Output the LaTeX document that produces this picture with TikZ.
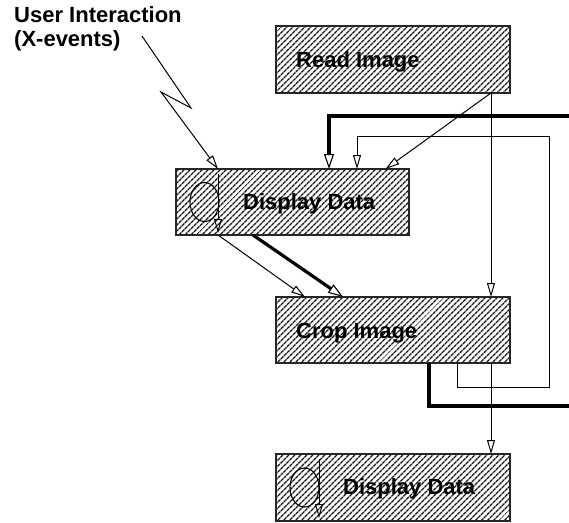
\documentclass[tikz,border=0pt]{standalone}
\usepackage{fontspec}
\setmainfont{Liberation Sans}
\usetikzlibrary{arrows.meta,patterns.meta,shapes.geometric}
\tikzset{
  procbox/.style={draw=black!85,line width=1.4pt,outer sep=0pt,inner sep=0pt,
    pattern={Lines[angle=45,distance=4pt,line width=1.4pt]},pattern color=black!90},
  lab/.style={font=\fontsize{22}{24}\selectfont\bfseries,inner sep=0pt,align=left},
  loopell/.style={draw,ellipse,line width=1.1pt,minimum width=29pt,minimum height=39pt,inner sep=0pt,outer sep=0pt},
  thin line/.style={line width=1pt},
  thick line/.style={line width=3.2pt},
  hollow/.style={-{Triangle[open,length=14pt,width=8pt,line width=1pt]}},
  hollow thick/.style={-{Triangle[open,length=15pt,width=10pt,line width=1.1pt]}}
}
\begin{document}
\begin{tikzpicture}[x=1pt,y=-1pt]
  \useasboundingbox (0,0) rectangle (569,522);
  \node[procbox,minimum width=234pt,minimum height=67pt] (readimg) at (393,59.5) {};
  \node[procbox,minimum width=233pt,minimum height=66pt] (dispa) at (292.5,202) {};
  \node[procbox,minimum width=234pt,minimum height=66pt] (cropimg) at (393,330) {};
  \node[procbox,minimum width=234pt,minimum height=67pt] (dispb) at (393,487.5) {};
  \node[lab,anchor=west] (readlab) at (296,62) {Read Image};
  \node[lab,anchor=west] (dispalab) at (243,204) {Display Data};
  \node[lab,anchor=west] (croplab) at (296,333) {Crop Image};
  \node[lab,anchor=west] (dispblab) at (343,489) {Display Data};
  \node[lab,anchor=north west] (userlab) at (14,6) {User Interaction\\(X-events)};
  \node[loopell] (ella) at (204.5,202) {};
  \node[loopell] (ellb) at (304.5,487.5) {};
  \coordinate (boltstart) at (142,36);
  \coordinate (exitthick) at (569,406);
  \coordinate (enterthick) at (569,116);
  \draw[thin line,hollow] (boltstart) -- (191,108) -- (161,92) -- ([xshift=-74.5pt]dispa.north);
  \draw[thin line,hollow] ([xshift=-74.5pt,yshift=-5pt]dispa.north) -- ([xshift=-74.5pt,yshift=2pt]dispa.south);
  \draw[thin line,hollow] ([xshift=-74pt,yshift=-5pt]dispb.north) -- ([xshift=-74pt,yshift=3pt]dispb.south);
  \draw[thin line,hollow] ([xshift=98pt]readimg.south) -- ([xshift=98pt]cropimg.north);
  \draw[thin line,hollow] ([xshift=98pt]readimg.south) -- ([xshift=93pt]dispa.north);
  \draw[thin line,hollow] ([xshift=98pt]cropimg.south) -- ([xshift=98pt]dispb.north);
  \draw[thin line,hollow] ([xshift=-74.5pt]dispa.south) -- ([xshift=-88pt]cropimg.north);
  \draw[thick line,hollow thick] ([xshift=-39.5pt]dispa.south) -- ([xshift=-50pt]cropimg.north);
  \draw[thin line,hollow] ([xshift=64pt]cropimg.south) |- (549,387) -- (549,136) -| ([xshift=64.5pt]dispa.north);
  \draw[thick line] ([xshift=36pt]cropimg.south) |- (exitthick);
  \draw[thick line,hollow thick] (enterthick) -| ([xshift=36.5pt]dispa.north);
\end{tikzpicture}
\end{document}
